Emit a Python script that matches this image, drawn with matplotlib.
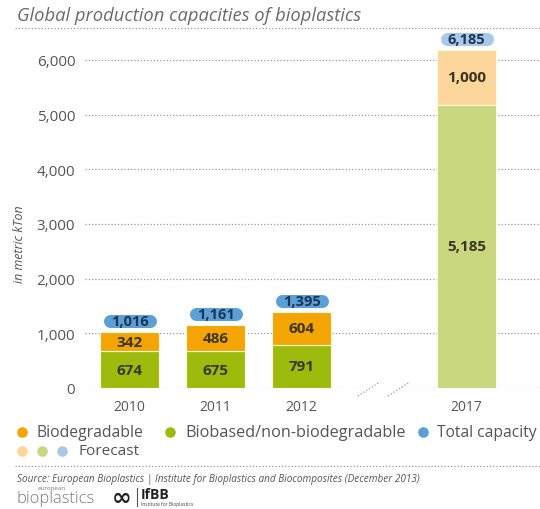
import matplotlib
matplotlib.use('Agg')
import matplotlib.pyplot as plt

# ---------------- data ----------------
years = ['2010', '2011', '2012', '2017']
biodegradable = [342, 486, 604, 1000]
biobased = [674, 675, 791, 5185]
total_capacity = [1016, 1161, 1395, 6185]
is_forecast = [False, False, False, True]
y_ticks = [0, 1000, 2000, 3000, 4000, 5000, 6000]
legend_labels = ['Biodegradable', 'Biobased/non-biodegradable', 'Total capacity']
forecast_label = 'Forecast'
title = 'Global production capacities of bioplastics'
ylabel = 'in metric kTon'
source = 'Source: European Bioplastics | Institute for Bioplastics and Biocomposites (December 2013)'

# ---------------- style ----------------
plt.rcParams['font.family'] = ['Open Sans', 'DejaVu Sans']
C_ORANGE, C_GREEN, C_BLUE = '#f5a503', '#9dbb0c', '#5a9fd5'
C_ORANGE_F, C_GREEN_F, C_BLUE_F = '#fdd69b', '#c9d77e', '#a9c9ea'
TXT = '#555555'
VAL = '#3a3620'
PILLTXT = '#1d3557'
GRID = '#9a9a9a'
DOT = (0, (1.0, 1.6))

W, H = 540, 510
fig = plt.figure(figsize=(W / 100, H / 100), dpi=100)
renderer = fig.canvas.get_renderer()

# main axes: y=0 at px 389, 1000 units = 54.67 px; x: centre = 129.5 + 86*p
y0_px, px_per_k = 389, 54.67
ytop = 6300
top_px = y0_px - ytop / 1000 * px_per_k
left_px, right_px = 85, 540
ax = fig.add_axes([left_px / W, 1 - y0_px / H, (right_px - left_px) / W, (y0_px - top_px) / H])
ax.set_ylim(0, ytop)
x_pos = [0, 1, 2, 3.92]
xl = (left_px - 129.5) / 86
xr = (right_px - 129.5) / 86
ax.set_xlim(xl, xr)
for s in ax.spines.values():
    s.set_visible(False)

# gridlines
for v in y_ticks:
    if v == 0:
        ax.hlines(0, xl, (363 - 129.5) / 86, colors=GRID, lw=0.9, linestyles=[DOT], zorder=1)
        ax.hlines(0, (402 - 129.5) / 86, xr, colors=GRID, lw=0.9, linestyles=[DOT], zorder=1)
    else:
        ax.hlines(v, xl, xr, colors=GRID, lw=0.9, linestyles=[DOT], zorder=1)

ax.set_yticks(y_ticks)
ax.set_yticklabels([f'{v:,}' for v in y_ticks], fontsize=11, color=TXT)
ax.tick_params(axis='y', length=0, pad=7)
ax.set_xticks(x_pos)
ax.set_xticklabels(years, fontsize=10, color=TXT)
ax.tick_params(axis='x', length=0, pad=8)

bw = 0.686
for i, x in enumerate(x_pos):
    cg = C_GREEN_F if is_forecast[i] else C_GREEN
    co = C_ORANGE_F if is_forecast[i] else C_ORANGE
    cb = C_BLUE_F if is_forecast[i] else C_BLUE
    ax.bar(x, biobased[i], width=bw, color=cg, edgecolor='#fffbe0', linewidth=0.8, zorder=3)
    ax.bar(x, biodegradable[i], bottom=biobased[i], width=bw, color=co,
           edgecolor='#fffbe0', linewidth=0.8, zorder=3)
    ax.text(x, biobased[i] / 2, f'{biobased[i]:,}', ha='center', va='center',
            fontsize=11, fontweight='bold', color=VAL, zorder=5)
    ax.text(x, biobased[i] + biodegradable[i] / 2, f'{biodegradable[i]:,}', ha='center',
            va='center', fontsize=11, fontweight='bold', color=VAL, zorder=5)
    # pill with total
    yc = total_capacity[i] + 11 / px_per_k * 1000
    a = 20 / 86
    ax.plot([x - a, x + a], [yc, yc], color=cb, lw=13 * 0.72, solid_capstyle='round',
            zorder=4, clip_on=False)
    ax.text(x, yc, f'{total_capacity[i]:,}', ha='center', va='center', fontsize=10.5,
            fontweight='bold', color=PILLTXT, zorder=5, clip_on=False)

# ---------------- overlay in pixel coords ----------------
ov = fig.add_axes([0, 0, 1, 1], zorder=10)
ov.set_xlim(0, W)
ov.set_ylim(H, 0)
ov.axis('off')


def fit(t, width=None, height=None):
    bb = t.get_window_extent(renderer)
    if width is not None:
        t.set_fontsize(t.get_fontsize() * width / bb.width)
    else:
        t.set_fontsize(t.get_fontsize() * height / bb.height)
    return t


# title
t = ov.text(17, 16, title, fontsize=12, style='italic', color='#6a6a6a', va='center', ha='left')
fit(t, width=345)
ov.plot([15, 540], [29, 29], color=GRID, lw=0.9, ls=DOT)

# y label
t = ov.text(20, 244, ylabel, rotation=90, fontsize=9, style='italic', color=TXT,
            va='center', ha='center')
fit(t, height=78)

# axis break marks
ov.plot([358, 380], [397, 383], color=GRID, lw=0.9, ls=DOT)
ov.plot([388, 410], [397, 383], color=GRID, lw=0.9, ls=DOT)

# legend
ms = 58
row1, row2 = 433, 452
circ_x = [22, 170, 423]
txt_x = [37, 185, 437]
widths = [107, 221, 100]
for cx, tx, wdt, lab, col in zip(circ_x, txt_x, widths, legend_labels, [C_ORANGE, C_GREEN, C_BLUE]):
    ov.scatter([cx], [row1], s=ms, color=col, linewidths=0)
    t = ov.text(tx, row1, lab, fontsize=11, color=TXT, va='center', ha='left')
    fit(t, width=wdt)
for cx, col in zip([22, 42, 62], [C_ORANGE_F, C_GREEN_F, C_BLUE_F]):
    ov.scatter([cx], [row2], s=ms, color=col, linewidths=0)
t = ov.text(78, row2, forecast_label, fontsize=11, color=TXT, va='center', ha='left')
fit(t, width=61)

ov.plot([15, 540], [467, 467], color=GRID, lw=0.9, ls=DOT)

# source
t = ov.text(17, 480, source, fontsize=7, style='italic', color=TXT, va='center', ha='left')
fit(t, width=403)

# logos (as text)
t = ov.text(17, 499, 'bioplastics', fontsize=12, color='#7a7a7a', va='center', ha='left',
            fontweight='light')
fit(t, width=78)
ov.text(52, 489, 'european', fontsize=4.5, color='#7a7a7a', va='center', ha='center')
ov.text(122, 498, '\u221e', fontsize=17, color='#222222', va='center', ha='center',
        fontweight='bold', family='DejaVu Sans')
ov.plot([137, 137], [489, 507], color='#555555', lw=0.8)
ov.text(141, 495, 'IfBB', fontsize=10, color='#222222', va='center', ha='left', fontweight='bold')
ov.text(141, 505, 'Institute for Bioplastics', fontsize=3.5, color='#444444', va='center', ha='left')

fig.savefig('out.png', dpi=100)
